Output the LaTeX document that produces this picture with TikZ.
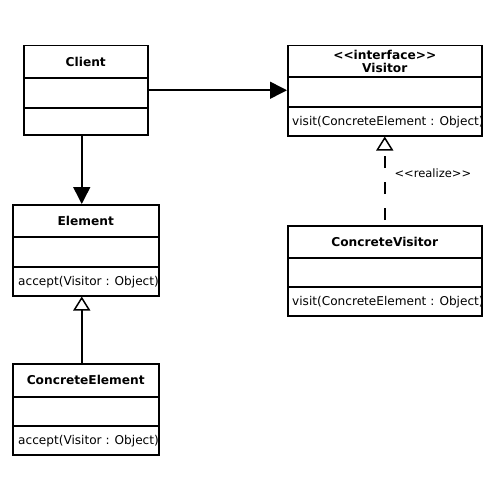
\documentclass[tikz,border=0pt]{standalone}
\usepackage{fontspec}
\setmainfont{DejaVu Sans}[Ligatures=TeXOff]
\usetikzlibrary{arrows.meta}

\tikzset{
	classbox/.style={draw, line width=1.5pt, inner sep=0pt, anchor=north west},
	classname/.style={font=\bfseries\fontsize{12.2}{13}\selectfont, align=center, inner sep=0pt},
	operation/.style={font=\fontsize{12.1}{13}\selectfont, anchor=west, inner sep=0pt},
	assoc/.style={line width=1.5pt, -{Triangle[width=17pt, length=17pt]}},
	inherit/.style={line width=1.5pt, -{Triangle[open, width=17pt, length=14pt]}},
	realize/.style={inherit, dash pattern=on 12pt off 14pt, dash phase=21pt}
}

\begin{document}
\begin{tikzpicture}[x=1pt, y=-1pt]
	\useasboundingbox (0,0) rectangle (500,500);

	% class boxes and their dividers
	\foreach \n/\x/\y/\w/\h/\a/\b in {client/23/45/124/89/33/63, visitor/287/45/194/90/32/62,
		element/12/204/146/91/33/63, concretevisitor/287/225/194/90/33/62,
		concreteelement/12/363/146/91/34/63} {
		\node[classbox, minimum width=\w pt, minimum height=\h pt] (\n) at (\x, \y) {};
		\draw[line width=1.5pt] ([yshift=-\a pt]\n.north west) -- ([yshift=-\a pt]\n.north east);
		\draw[line width=1.5pt] ([yshift=-\b pt]\n.north west) -- ([yshift=-\b pt]\n.north east);
	}

	% names
	\node[classname] (clientname) at ([yshift=-16.5pt]client.north) {Client};
	\node[classname] (visitorname) at ([yshift=-16.5pt]visitor.north) {<<interface>>\\Visitor};
	\node[classname] (elementname) at ([yshift=-16.5pt]element.north) {Element};
	\node[classname] (concretevisitorname) at ([yshift=-16.5pt]concretevisitor.north) {ConcreteVisitor};
	\node[classname] (concreteelementname) at ([yshift=-16.5pt]concreteelement.north) {ConcreteElement};

	% operations
	\node[operation] (visitorop) at ([xshift=5pt, yshift=14pt]visitor.south west) {visit(ConcreteElement : Object)};
	\node[operation] (concretevisitorop) at ([xshift=5pt, yshift=14pt]concretevisitor.south west) {visit(ConcreteElement : Object)};
	\node[operation] (elementop) at ([xshift=6pt, yshift=14pt]element.south west) {accept(Visitor : Object)};
	\node[operation] (concreteelementop) at ([xshift=6pt, yshift=14pt]concreteelement.south west) {accept(Visitor : Object)};

	% relations
	\draw[assoc] (client.east) -- (client.east -| visitor.west);
	\draw[assoc] ([xshift=-4pt]client.south) -- ([xshift=-4pt]element.north);
	\draw[inherit] ([xshift=-4pt]concreteelement.north) -- ([xshift=-4pt]element.south);
	\draw[realize] (concretevisitor.north) -- (visitor.south)
		node[pos=0.58, anchor=west, xshift=9pt, inner sep=0pt, font=\fontsize{11.5}{13}\selectfont, solid] (realizelabel) {<<realize>>};
\end{tikzpicture}
\end{document}
